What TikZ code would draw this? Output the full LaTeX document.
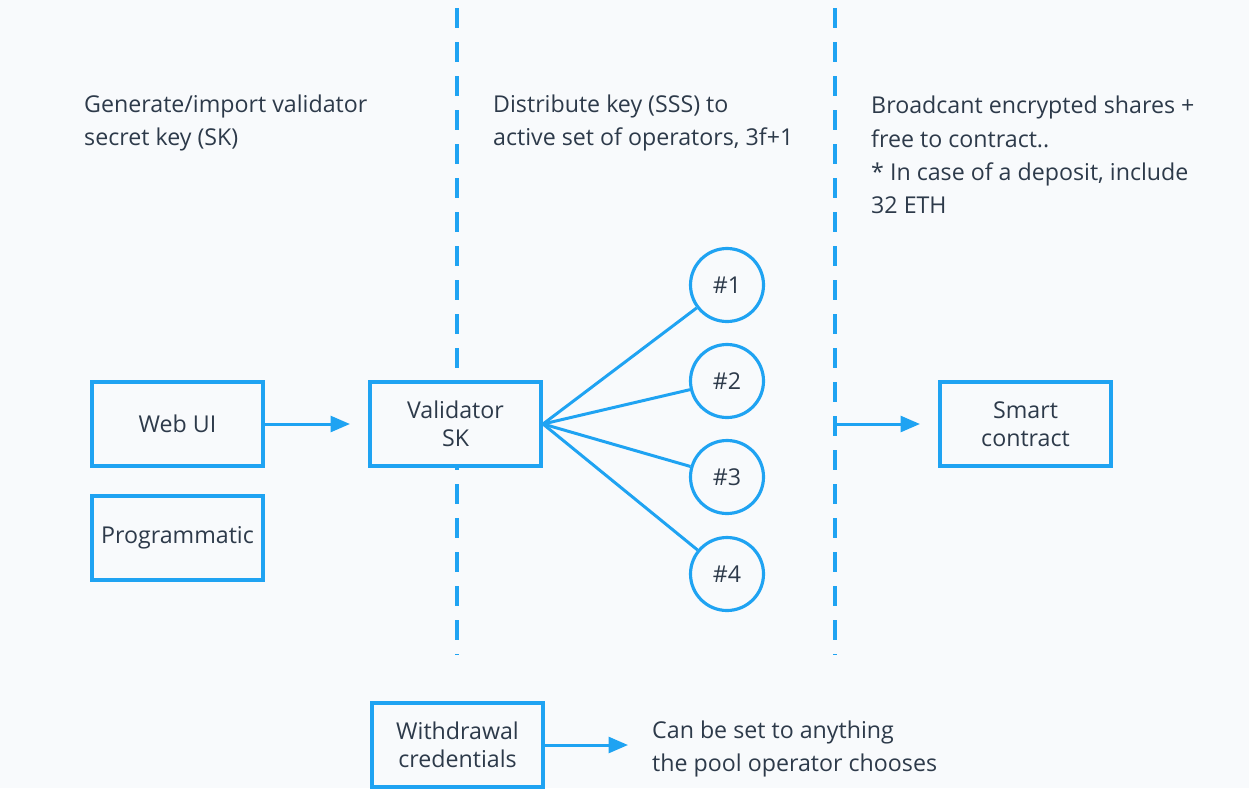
\documentclass[tikz,border=0pt]{standalone}
\usepackage{fontspec}
\setmainfont{Open Sans}
\usepackage{xcolor}
\usepackage{tikz}
\usetikzlibrary{positioning,arrows.meta}
\definecolor{skyblue}{HTML}{1FA3F2}
\definecolor{slatetext}{HTML}{2D3A4A}
\definecolor{paper}{HTML}{F8FAFC}

\begin{document}
\begin{tikzpicture}[
font=\fontsize{13.2}{16}\selectfont, text=slatetext,
box/.style={rectangle, draw=skyblue, fill=paper, line width=2.3pt, minimum width=3.42cm, minimum height=1.68cm, align=center, inner sep=2pt},
operator/.style={circle, draw=skyblue, fill=paper, line width=1.8pt, minimum size=1.46cm, inner sep=0pt},
link/.style={skyblue, line width=1.7pt},
flow/.style={skyblue, line width=1.7pt, -{Triangle[length=11pt,width=9pt]}, shorten >=0.36cm},
divider/.style={skyblue, line width=1.8pt, dash pattern=on 0.4cm off 0.28cm},
caption/.style={anchor=west, align=left, font=\fontsize{13.2}{19}\selectfont},
]
%Background
\fill[paper] (0,0) rectangle (24.98,-15.76);
\useasboundingbox (0,0) rectangle (24.98,-15.76);

%Dividers
\draw[divider] (9.14,-0.16) -- (9.14,-13.1);
\draw[divider] (16.70,-0.16) -- (16.70,-13.1);
\coordinate (gate) at (16.70,-8.48);

%Captions
\node[caption] (gentext) at (1.56,-2.46) {Generate/import validator\\secret key (SK)};
\node[caption] (disttext) at (9.74,-2.46) {Distribute key (SSS) to\\active set of operators, 3f+1};
\node[caption] (casttext) at (17.30,-3.10) {Broadcant encrypted shares +\\free to contract..\\* In case of a deposit, include\\32 ETH};

%Sources
\node[box] (webui) at (3.55,-8.48) {Web UI};
\node[box] (prog) at (3.55,-10.76) {Programmatic};

%Key
\node[box] (valsk) at (9.11,-8.48) {Validator\\SK};

%Operators
\node[operator] (op1) at (14.54,-5.70) {\#1};
\node[operator] (op2) at (14.54,-7.62) {\#2};
\node[operator] (op3) at (14.54,-9.54) {\#3};
\node[operator] (op4) at (14.54,-11.48) {\#4};

%Contract
\node[box] (smart) at (20.51,-8.48) {Smart\\contract};

%Withdrawal
\node[box] (wdcred) at (9.15,-14.90) {Withdrawal\\credentials};
\node[caption] (wdtext) at (12.92,-14.98) {Can be set to anything\\the pool operator chooses};

%Connections
\draw[flow] (webui) -- (valsk);
\draw[link] (valsk.east) -- (op1);
\draw[link] (valsk.east) -- (op2);
\draw[link] (valsk.east) -- (op3);
\draw[link] (valsk.east) -- (op4);
\draw[flow] (gate) -- (smart);
\draw[flow] (wdcred.east) -- (wdcred.east -| wdtext.west);
\end{tikzpicture}
\end{document}
